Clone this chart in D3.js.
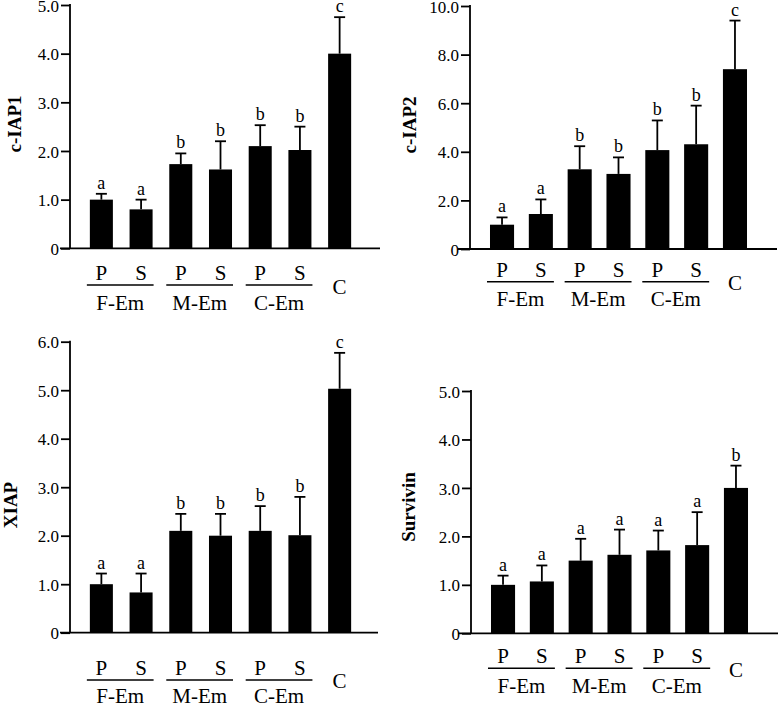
<!DOCTYPE html>
<html>
<head>
<meta charset="utf-8">
<script src="https://cdn.jsdelivr.net/npm/d3@7"></script>
<style>
  html, body { margin: 0; padding: 0; background: #fff; }
  svg { display: block; }
  text { font-family: "Liberation Serif", "Times New Roman", serif; fill: #000; }
</style>
</head>
<body>
<svg id="chart" width="780" height="705"></svg>
<script>
// ---------------- DATA ----------------
const categories = ["F-Em P", "F-Em S", "M-Em P", "M-Em S", "C-Em P", "C-Em S", "C"];
const subLabels = ["P", "S", "P", "S", "P", "S", "C"];
const groupLabels = ["F-Em", "M-Em", "C-Em"];

const cIAP1Values = [1.0, 0.8, 1.73, 1.62, 2.1, 2.02, 4.0];
const cIAP1Errors = [0.12, 0.2, 0.22, 0.58, 0.43, 0.48, 0.75];
const cIAP1Letters = ["a", "a", "b", "b", "b", "b", "c"];
const cIAP1Ticks = [0, 1, 2, 3, 4, 5];

const cIAP2Values = [1.0, 1.44, 3.28, 3.09, 4.07, 4.31, 7.4];
const cIAP2Errors = [0.3, 0.6, 0.95, 0.68, 1.22, 1.59, 2.0];
const cIAP2Letters = ["a", "a", "b", "b", "b", "b", "c"];
const cIAP2Ticks = [0, 2, 4, 6, 8, 10];

const xiapValues = [1.0, 0.83, 2.1, 2.0, 2.1, 2.01, 5.03];
const xiapErrors = [0.22, 0.39, 0.35, 0.45, 0.51, 0.79, 0.74];
const xiapLetters = ["a", "a", "b", "b", "b", "b", "c"];
const xiapTicks = [0, 1, 2, 3, 4, 5, 6];

const survivinValues = [1.0, 1.07, 1.5, 1.62, 1.71, 1.82, 3.0];
const survivinErrors = [0.19, 0.33, 0.45, 0.52, 0.41, 0.68, 0.46];
const survivinLetters = ["a", "a", "a", "a", "a", "a", "b"];
const survivinTicks = [0, 1, 2, 3, 4, 5];

// ---------------- LAYOUT ----------------
const panels = [
  { title: "c-IAP1", values: cIAP1Values, errors: cIAP1Errors, letters: cIAP1Letters, ticks: cIAP1Ticks,
    axisX: 70, top: 5, zero: 248.3, xRange: [70, 371], pi: 0.42, po: 0.5, lineL: 60, lineR: 380,
    off: { ps: 31.7, line: 36.7, grp: 61.7, c: 45.7 }, titleX: 21, titleY: 124 },
  { title: "c-IAP2", values: cIAP2Values, errors: cIAP2Errors, letters: cIAP2Letters, ticks: cIAP2Ticks,
    axisX: 470, top: 6, zero: 249, xRange: [470, 767], pi: 0.38, po: 0.515, lineL: 458, lineR: 777,
    off: { ps: 27.7, line: 32.7, grp: 57, c: 41 }, titleX: 416, titleY: 125 },
  { title: "XIAP", values: xiapValues, errors: xiapErrors, letters: xiapLetters, ticks: xiapTicks,
    axisX: 70, top: 341.7, zero: 632.7, xRange: [70, 371], pi: 0.42, po: 0.5, lineL: 60, lineR: 378,
    off: { ps: 42.3, line: 47.3, grp: 70.6, c: 55.6 }, titleX: 17, titleY: 505 },
  { title: "Survivin", values: survivinValues, errors: survivinErrors, letters: survivinLetters, ticks: survivinTicks,
    axisX: 471, top: 391, zero: 633.3, xRange: [471, 768], pi: 0.38, po: 0.515, lineL: 458, lineR: 778,
    off: { ps: 30, line: 35, grp: 60, c: 44 }, titleX: 415, titleY: 507 }
];

const svg = d3.select("#chart");
const SERIF = "'Liberation Serif', 'Times New Roman', serif";

function label(g, x, y, str, size, weight) {
  return g.append("text")
    .attr("x", x).attr("y", y)
    .attr("text-anchor", "middle")
    .style("font-family", SERIF)
    .style("font-size", size + "px")
    .style("font-weight", weight || "normal")
    .text(str);
}

panels.forEach(p => {
  const g = svg.append("g");
  const yMax = p.ticks[p.ticks.length - 1];
  const y = d3.scaleLinear().domain([0, yMax]).range([p.zero, p.top]);
  const x = d3.scaleBand().domain(categories).range(p.xRange).paddingInner(p.pi).paddingOuter(p.po);
  const bw = x.bandwidth();

  // y axis
  const yAxis = d3.axisLeft(y).tickValues(p.ticks)
    .tickFormat(d => d === 0 ? "0" : d3.format(".1f")(d))
    .tickSize(9).tickPadding(2);
  const ya = g.append("g").attr("transform", `translate(${p.axisX},0)`).call(yAxis)
    .attr("font-family", SERIF).attr("font-size", 17);
  ya.select(".domain").remove();
  ya.selectAll(".tick line").attr("stroke", "#000").attr("stroke-width", 1.8);
  ya.selectAll(".tick text")
    .attr("dy", "0.36em")
    .style("font-family", SERIF).style("font-size", "17px").attr("fill", "#000");
  g.append("line").attr("x1", p.axisX).attr("x2", p.axisX).attr("y1", y(yMax) - 0.9).attr("y2", y(0))
    .attr("stroke", "#000").attr("stroke-width", 1.8);
  // x axis line
  g.append("line").attr("x1", p.lineL).attr("x2", p.lineR).attr("y1", y(0)).attr("y2", y(0))
    .attr("stroke", "#000").attr("stroke-width", 1.8);

  // bars
  g.selectAll("rect.bar").data(p.values).join("rect")
    .attr("class", "bar")
    .attr("x", (d, i) => x(categories[i]))
    .attr("width", bw)
    .attr("y", d => y(d))
    .attr("height", d => y(0) - y(d))
    .attr("fill", "#000");

  // error bars + significance letters
  p.values.forEach((v, i) => {
    const cx = x(categories[i]) + bw / 2;
    const top = y(v + p.errors[i]);
    g.append("line").attr("x1", cx).attr("x2", cx).attr("y1", y(v)).attr("y2", top)
      .attr("stroke", "#000").attr("stroke-width", 1.8);
    g.append("line").attr("x1", cx - 5.5).attr("x2", cx + 5.5).attr("y1", top).attr("y2", top)
      .attr("stroke", "#000").attr("stroke-width", 1.8);
    label(g, cx, top - 5, p.letters[i], 18);
  });

  // category labels
  subLabels.forEach((s, i) => {
    const cx = x(categories[i]) + bw / 2;
    if (i < 6) label(g, cx, y(0) + p.off.ps, s, 21);
    else label(g, cx, y(0) + p.off.c, s, 21);
  });
  groupLabels.forEach((gl, k) => {
    const a = x(categories[2 * k]) - 3;
    const b = x(categories[2 * k + 1]) + bw + 1;
    g.append("line").attr("x1", a).attr("x2", b)
      .attr("y1", y(0) + p.off.line).attr("y2", y(0) + p.off.line)
      .attr("stroke", "#000").attr("stroke-width", 1.5);
    label(g, (a + b) / 2, y(0) + p.off.grp, gl, 21);
  });

  // title
  g.append("text")
    .attr("transform", `translate(${p.titleX},${p.titleY}) rotate(-90)`)
    .attr("text-anchor", "middle")
    .style("font-family", SERIF)
    .style("font-size", "19px")
    .style("font-weight", "bold")
    .text(p.title);
});
</script>
</body>
</html>
